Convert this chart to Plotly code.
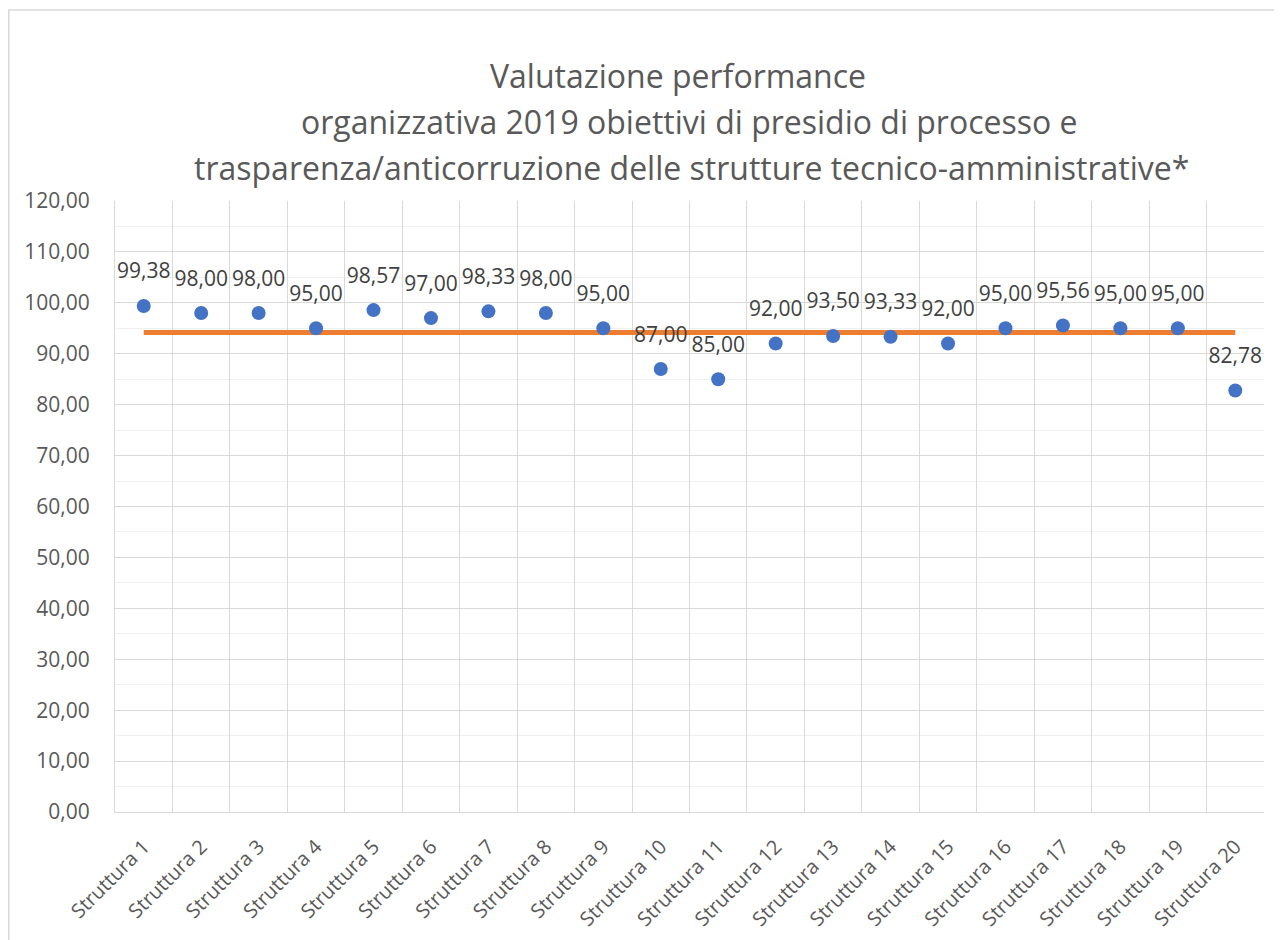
import plotly.graph_objects as go

categorie = [f"Struttura {i}" for i in range(1, 21)]
valori = [99.38, 98.00, 98.00, 95.00, 98.57, 97.00, 98.33, 98.00, 95.00, 87.00,
          85.00, 92.00, 93.50, 93.33, 92.00, 95.00, 95.56, 95.00, 95.00, 82.78]
media = [94.17] * 20

titolo_righe = [
    "Valutazione performance",
    "organizzativa 2019 obiettivi di presidio di processo e",
    "trasparenza/anticorruzione delle strutture tecnico-amministrative*",
]

FONT = "Open Sans"
OFF = 8  # page body margin
W, H = 1282 - OFF, 940 - OFF
# desired page coordinates of the plot area
PL, PR, PT, PB = 115, 1264, 201, 812
L, T = PL - OFF, PT - OFF
R = W - (PR - OFF)
B = H - (PB - OFF)

fig = go.Figure()
fig.add_trace(go.Scatter(
    x=categorie, y=media, mode="lines",
    line=dict(color="#ED7D31", width=5), hoverinfo="skip", showlegend=False,
))
fig.add_trace(go.Scatter(
    x=categorie, y=valori, mode="markers",
    marker=dict(color="#4472C4", size=14),
    showlegend=False,
))
# data labels (placed above an invisible, larger marker for extra offset)
fig.add_trace(go.Scatter(
    x=categorie, y=valori, mode="markers+text",
    marker=dict(color="rgba(0,0,0,0)", size=34),
    text=valori, texttemplate="%{y:.2f}", textposition="top center",
    textfont=dict(family=FONT, size=21, color="#404040"),
    hoverinfo="skip", showlegend=False,
))

pw = W - L - R
ph = H - T - B
def px2x(p):
    return (p - OFF - L) / pw
def py2y(p):
    return (H - B - (p - OFF)) / ph

annots = []
for riga, cx, cy in zip(titolo_righe, [678, 689, 691], [75, 121, 167]):
    annots.append(dict(
        text=riga, xref="paper", yref="paper", x=px2x(cx), y=py2y(cy),
        xanchor="center", yanchor="middle", showarrow=False,
        font=dict(family=FONT, size=32, color="#595959"),
    ))

fig.update_layout(
    width=W, height=H,
    margin=dict(l=L, r=R, t=T, b=B, autoexpand=False),
    paper_bgcolor="white", plot_bgcolor="white",
    separators=",.",
    font=dict(family=FONT, color="#595959"),
    annotations=annots,
    xaxis=dict(
        type="category", range=[-0.5, 19.5], tickson="boundaries",
        automargin=False,
        showgrid=True, gridcolor="#D9D9D9", gridwidth=1,
        showline=True, linecolor="#D9D9D9", linewidth=1, mirror=False,
        ticks="", tickangle=-45, ticklabelstandoff=14,
        tickfont=dict(family=FONT, size=20, color="#595959"),
        zeroline=False,
    ),
    yaxis=dict(
        range=[0, 120], dtick=10, tickformat=".2f",
        automargin=False,
        showgrid=True, gridcolor="#D9D9D9", gridwidth=1,
        minor=dict(dtick=5, showgrid=True, gridcolor="#F0F0F0", gridwidth=1),
        showline=True, linecolor="#D9D9D9", linewidth=1,
        ticks="", ticklabelstandoff=20,
        tickfont=dict(family=FONT, size=21, color="#595959"),
        zeroline=False,
    ),
    shapes=[dict(
        type="rect", xref="paper", yref="paper",
        x0=px2x(8.8), x1=px2x(1300), y0=py2y(960), y1=py2y(10),
        line=dict(color="#D9D9D9", width=1.5), fillcolor="rgba(0,0,0,0)", layer="below",
    )],
)

fig.write_html("out.html")
